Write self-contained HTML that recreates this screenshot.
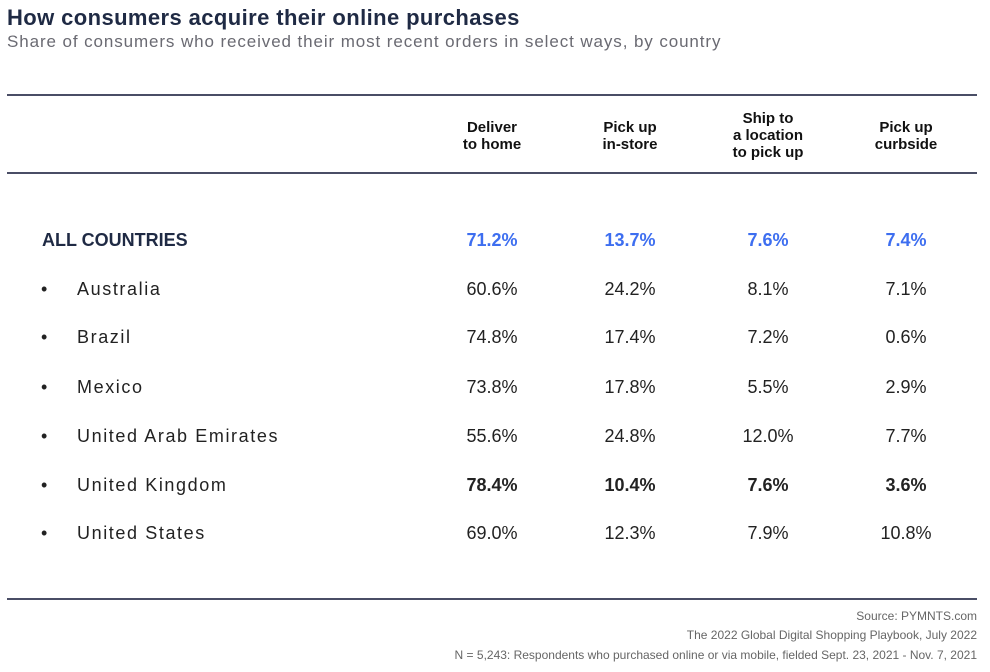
<!DOCTYPE html>
<html><head><style>
body{margin:0;width:990px;height:672px;background:#fff;position:relative;overflow:hidden;font-family:"Liberation Sans",sans-serif;}
.a{position:absolute;white-space:nowrap;}
.t{left:7px;top:5px;font-size:22px;font-weight:bold;color:#1f2a44;letter-spacing:0.4px;}
.s{left:7px;top:32px;font-size:17px;color:#6a6a72;letter-spacing:0.9px;}
.hr{position:absolute;left:7px;width:970px;height:2px;background:#4a4e66;}
.h{font-size:15px;font-weight:bold;color:#111;text-align:center;line-height:17px;width:140px;}
.c{font-size:18px;color:#222;text-align:center;width:120px;}
.n{font-size:18px;color:#222;left:77px;letter-spacing:1.6px;}
.b{font-size:18px;color:#222;left:41px;}
.blue{color:#3d6ef0;font-weight:bold;}
.f{right:13px;font-size:12px;color:#666;}
</style></head><body>
<div class="a t">How consumers acquire their online purchases</div>
<div class="a s">Share of consumers who received their most recent orders in select ways, by country</div>
<div class="hr" style="top:94px"></div>
<div class="hr" style="top:172px"></div>
<div class="hr" style="top:598px"></div>
<div class="a h" style="left:422px;top:119px">Deliver<br>to home</div>
<div class="a h" style="left:560px;top:119px">Pick up<br>in-store</div>
<div class="a h" style="left:698px;top:110px">Ship to<br>a location<br>to pick up</div>
<div class="a h" style="left:836px;top:119px">Pick up<br>curbside</div>

<div class="a" style="left:42px;top:230px;font-size:18px;font-weight:bold;color:#1f2a44">ALL COUNTRIES</div>
<div class="a c blue" style="left:432px;top:230px">71.2%</div>
<div class="a c blue" style="left:570px;top:230px">13.7%</div>
<div class="a c blue" style="left:708px;top:230px">7.6%</div>
<div class="a c blue" style="left:846px;top:230px">7.4%</div>

<div class="a b" style="top:279px">•</div><div class="a n" style="top:279px">Australia</div>
<div class="a c" style="left:432px;top:279px">60.6%</div><div class="a c" style="left:570px;top:279px">24.2%</div><div class="a c" style="left:708px;top:279px">8.1%</div><div class="a c" style="left:846px;top:279px">7.1%</div>

<div class="a b" style="top:327px">•</div><div class="a n" style="top:327px">Brazil</div>
<div class="a c" style="left:432px;top:327px">74.8%</div><div class="a c" style="left:570px;top:327px">17.4%</div><div class="a c" style="left:708px;top:327px">7.2%</div><div class="a c" style="left:846px;top:327px">0.6%</div>

<div class="a b" style="top:377px">•</div><div class="a n" style="top:377px">Mexico</div>
<div class="a c" style="left:432px;top:377px">73.8%</div><div class="a c" style="left:570px;top:377px">17.8%</div><div class="a c" style="left:708px;top:377px">5.5%</div><div class="a c" style="left:846px;top:377px">2.9%</div>

<div class="a b" style="top:426px">•</div><div class="a n" style="top:426px">United Arab Emirates</div>
<div class="a c" style="left:432px;top:426px">55.6%</div><div class="a c" style="left:570px;top:426px">24.8%</div><div class="a c" style="left:708px;top:426px">12.0%</div><div class="a c" style="left:846px;top:426px">7.7%</div>

<div class="a b" style="top:475px">•</div><div class="a n" style="top:475px">United Kingdom</div>
<div class="a c" style="left:432px;top:475px;font-weight:bold">78.4%</div><div class="a c" style="left:570px;top:475px;font-weight:bold">10.4%</div><div class="a c" style="left:708px;top:475px;font-weight:bold">7.6%</div><div class="a c" style="left:846px;top:475px;font-weight:bold">3.6%</div>

<div class="a b" style="top:523px">•</div><div class="a n" style="top:523px">United States</div>
<div class="a c" style="left:432px;top:523px">69.0%</div><div class="a c" style="left:570px;top:523px">12.3%</div><div class="a c" style="left:708px;top:523px">7.9%</div><div class="a c" style="left:846px;top:523px">10.8%</div>

<div class="a f" style="top:609px">Source: PYMNTS.com</div>
<div class="a f" style="top:628px">The 2022 Global Digital Shopping Playbook, July 2022</div>
<div class="a f" style="top:648px">N = 5,243: Respondents who purchased online or via mobile, fielded Sept. 23, 2021 - Nov. 7, 2021</div>
</body></html>
